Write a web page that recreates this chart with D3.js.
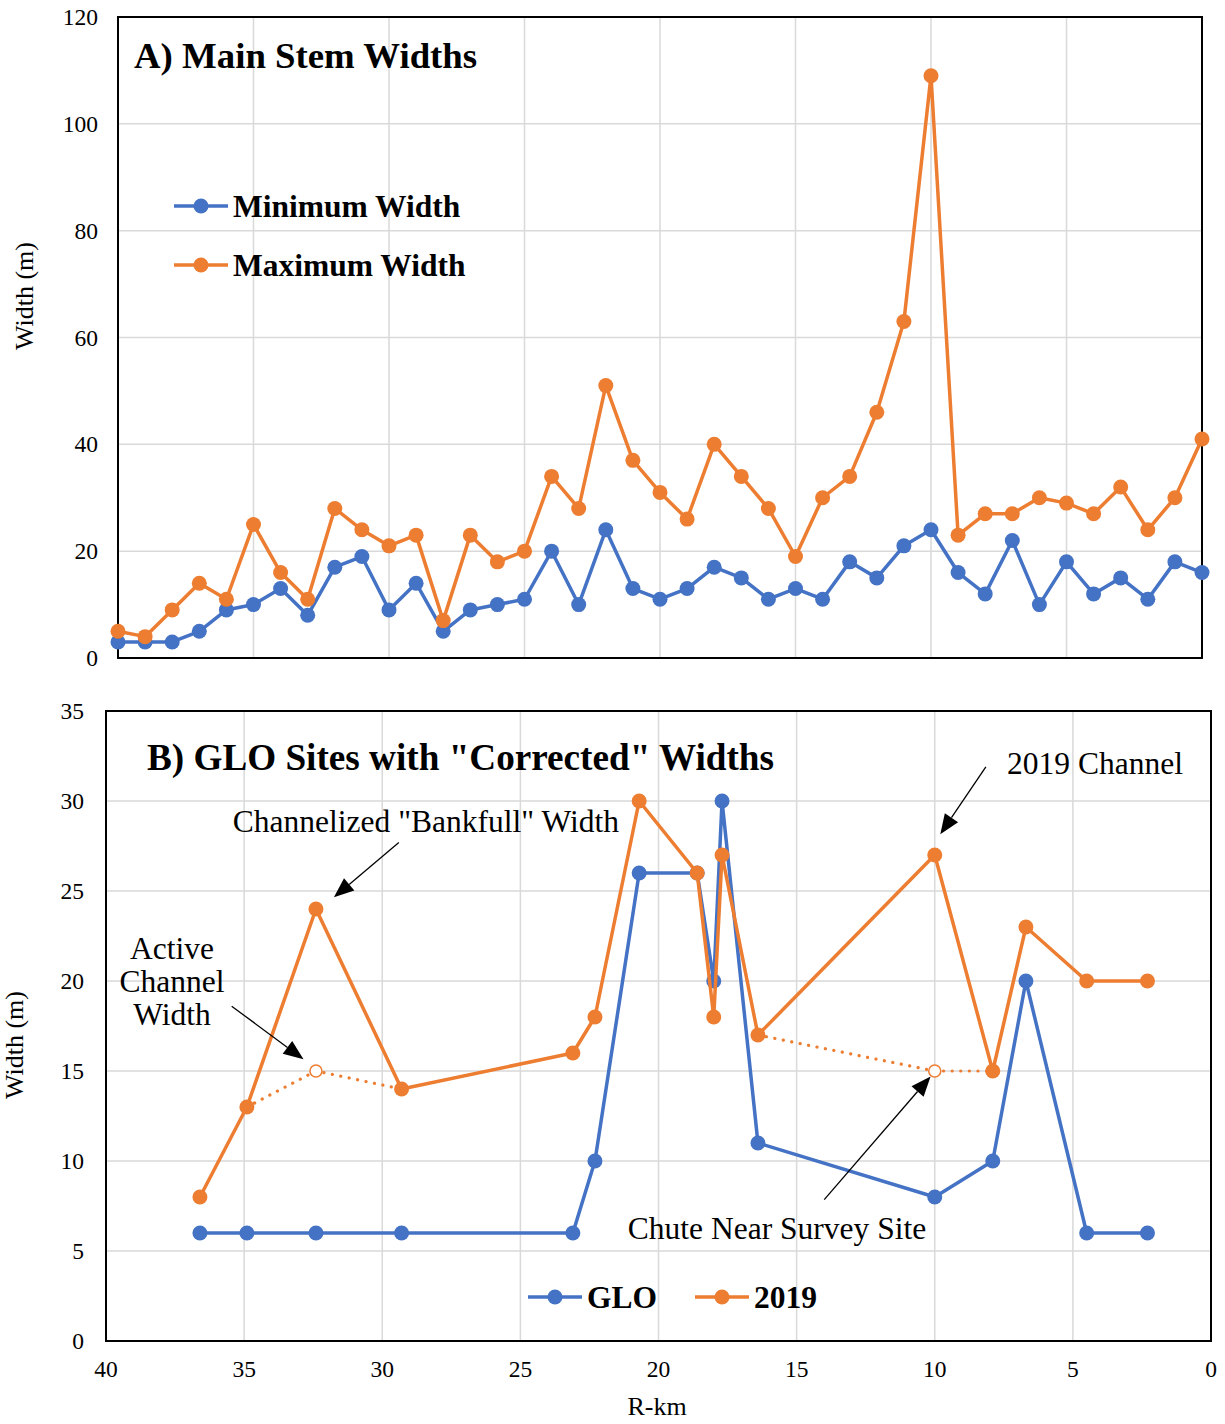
<!DOCTYPE html>
<html>
<head>
<meta charset="utf-8">
<script src="https://cdn.jsdelivr.net/npm/d3@7"></script>
<style>
  html, body { margin: 0; padding: 0; background: #fff; }
  svg { display: block; }
  svg text { font-family: "Liberation Serif", "Times New Roman", serif; }
</style>
</head>
<body>
<script>
// ---- panel A: main stem widths, one value per R-km
const kmA = [40, 39, 38, 37, 36, 35, 34, 33, 32, 31, 30, 29, 28, 27, 26, 25, 24, 23, 22, 21,
             20, 19, 18, 17, 16, 15, 14, 13, 12, 11, 10, 9, 8, 7, 6, 5, 4, 3, 2, 1, 0];
const minWidth = [3, 3, 3, 5, 9, 10, 13, 8, 17, 19, 9, 14, 5, 9, 10, 11, 20, 10, 24, 13,
                  11, 13, 17, 15, 11, 13, 11, 18, 15, 21, 24, 16, 12, 22, 10, 18, 12, 15, 11, 18, 16];
const maxWidth = [5, 4, 9, 14, 11, 25, 16, 11, 28, 24, 21, 23, 7, 23, 18, 20, 34, 28, 51, 37,
                  31, 26, 40, 34, 28, 19, 30, 34, 46, 63, 109, 23, 27, 27, 30, 29, 27, 32, 24, 30, 41];
const seriesA = ["Minimum Width", "Maximum Width"];
const yTicksA = [0, 20, 40, 60, 80, 100, 120];

// ---- panel B: GLO sites with corrected widths
const kmB = [36.6, 34.9, 32.4, 29.3, 23.1, 22.3, 20.7, 18.6, 18.0, 17.7, 16.4, 10.0, 7.9, 6.7, 4.5, 2.3];
const gloWidth = [6, 6, 6, 6, 6, 10, 26, 26, 20, 30, 11, 8, 10, 20, 6, 6];
const width2019 = [8, 13, 24, 14, 16, 18, 30, 26, 18, 27, 17, 27, 15, 23, 20, 20];
// active channel widths (dotted), two stretches; middle point of each is the corrected one
const activeKm = [34.9, 32.4, 29.3, 16.4, 10.0, 7.9];
const activeWidth = [13, 15, 14, 17, 15, 15];
const activeGroup = [1, 1, 1, 2, 2, 2];
const activeHollow = [false, true, false, false, true, false];
const seriesB = ["GLO", "2019"];
const yTicksB = [0, 5, 10, 15, 20, 25, 30, 35];
const xTicksB = [40, 35, 30, 25, 20, 15, 10, 5, 0];

const BLUE = "#4472C4", ORANGE = "#ED7D31", GRID = "#D9D9D9";

const svg = d3.select("body").append("svg")
  .attr("width", 1225).attr("height", 1424)
  .attr("font-family", '"Liberation Serif", "Times New Roman", serif');

function panel(cfg) {
  const x = d3.scaleLinear().domain([40, 0]).range([cfg.left, cfg.right]);
  const y = d3.scaleLinear().domain(cfg.yDomain).range([cfg.bottom, cfg.top]);
  const g = svg.append("g");

  g.append("g").selectAll("line").data(cfg.yTicks.slice(1, -1)).join("line")
    .attr("x1", cfg.left).attr("x2", cfg.right)
    .attr("y1", d => y(d)).attr("y2", d => y(d))
    .attr("stroke", GRID).attr("stroke-width", 1.5);
  g.append("g").selectAll("line").data(d3.range(35, 0, -5)).join("line")
    .attr("x1", d => x(d)).attr("x2", d => x(d))
    .attr("y1", cfg.top).attr("y2", cfg.bottom)
    .attr("stroke", GRID).attr("stroke-width", 1.5);

  g.append("rect")
    .attr("x", cfg.left).attr("y", cfg.top)
    .attr("width", cfg.right - cfg.left).attr("height", cfg.bottom - cfg.top)
    .attr("fill", "none").attr("stroke", "#000").attr("stroke-width", 2);

  g.append("g").selectAll("text").data(cfg.yTicks).join("text")
    .attr("x", cfg.left - cfg.tickGap).attr("y", d => y(d) + 8)
    .attr("text-anchor", "end").attr("font-size", 23.5)
    .text(d => d);

  g.append("text")
    .attr("transform", `translate(${cfg.yTitleX},${cfg.yTitleY}) rotate(-90)`)
    .attr("text-anchor", "middle").attr("font-size", 26)
    .text("Width (m)");

  return { x, y, g };
}

function series(g, x, y, kms, vals, color) {
  const pts = kms.map((k, i) => [k, vals[i]]);
  g.append("path")
    .attr("d", d3.line().x(d => x(d[0])).y(d => y(d[1]))(pts))
    .attr("fill", "none").attr("stroke", color).attr("stroke-width", 3.5)
    .attr("stroke-linejoin", "round");
  g.append("g").selectAll("circle").data(pts).join("circle")
    .attr("cx", d => x(d[0])).attr("cy", d => y(d[1])).attr("r", 7.5)
    .attr("fill", color);
}

function legendItem(g, lx, ly, color, label) {
  g.append("line").attr("x1", lx).attr("x2", lx + 54).attr("y1", ly).attr("y2", ly)
    .attr("stroke", color).attr("stroke-width", 3.5);
  g.append("circle").attr("cx", lx + 27).attr("cy", ly).attr("r", 7.5).attr("fill", color);
  g.append("text").attr("x", lx + 59).attr("y", ly + 11)
    .attr("font-size", 31.5).attr("font-weight", "bold").text(label);
}

function arrow(g, from, to) {
  const [x1, y1] = from, [x2, y2] = to;
  const ang = Math.atan2(y2 - y1, x2 - x1);
  const L = 20, W = 8;
  const bx = x2 - L * Math.cos(ang), by = y2 - L * Math.sin(ang);
  g.append("line").attr("x1", x1).attr("y1", y1).attr("x2", bx).attr("y2", by)
    .attr("stroke", "#000").attr("stroke-width", 1.3);
  const p = [[x2, y2],
    [bx + W * Math.sin(ang), by - W * Math.cos(ang)],
    [bx - W * Math.sin(ang), by + W * Math.cos(ang)]];
  g.append("path").attr("d", "M" + p.join("L") + "Z").attr("fill", "#000");
}

// ---------------- Panel A
{
  const { x, y, g } = panel({ left: 118, right: 1202, top: 17, bottom: 658,
    yDomain: [0, 120], yTicks: yTicksA, tickGap: 20, yTitleX: 33, yTitleY: 296 });
  series(g, x, y, kmA, minWidth, BLUE);
  series(g, x, y, kmA, maxWidth, ORANGE);

  g.append("text").attr("x", 134).attr("y", 68)
    .attr("font-size", 36.8).attr("font-weight", "bold").text("A) Main Stem Widths");
  legendItem(g, 174, 206, BLUE, seriesA[0]);
  legendItem(g, 174, 265, ORANGE, seriesA[1]);
}

// ---------------- Panel B
{
  const { x, y, g } = panel({ left: 106, right: 1211, top: 711, bottom: 1341,
    yDomain: [0, 35], yTicks: yTicksB, tickGap: 22, yTitleX: 23, yTitleY: 1045 });

  g.append("g").selectAll("text").data(xTicksB).join("text")
    .attr("x", d => x(d)).attr("y", 1377)
    .attr("text-anchor", "middle").attr("font-size", 23.5).text(d => d);
  g.append("text").attr("x", 657).attr("y", 1415)
    .attr("text-anchor", "middle").attr("font-size", 26).text("R-km");

  series(g, x, y, kmB, gloWidth, BLUE);
  series(g, x, y, kmB, width2019, ORANGE);

  // dotted active-channel stretches
  const act = activeKm.map((k, i) => ({ k, w: activeWidth[i], grp: activeGroup[i], hollow: activeHollow[i] }));
  for (const [, pts] of d3.group(act, d => d.grp)) {
    g.append("path")
      .attr("d", d3.line().x(d => x(d.k)).y(d => y(d.w))(pts))
      .attr("fill", "none").attr("stroke", ORANGE).attr("stroke-width", 3.2)
      .attr("stroke-linecap", "round").attr("stroke-dasharray", "0.1 8.5");
  }
  g.append("g").selectAll("circle").data(act.filter(d => d.hollow)).join("circle")
    .attr("cx", d => x(d.k)).attr("cy", d => y(d.w)).attr("r", 6)
    .attr("fill", "#fff").attr("stroke", ORANGE).attr("stroke-width", 1.5);

  g.append("text").attr("x", 147).attr("y", 770)
    .attr("font-size", 37.2).attr("font-weight", "bold")
    .text('B) GLO Sites with "Corrected" Widths');

  // annotations (positions in data units)
  const P = (k, w) => [x(k), y(w)];
  g.append("text").attr("x", x(28.42)).attr("y", 832).attr("text-anchor", "middle")
    .attr("font-size", 31.5).text('Channelized "Bankfull" Width');
  arrow(g, P(29.4, 27.7), P(31.75, 24.65));

  const act3 = ["Active", "Channel", "Width"];
  g.append("g").selectAll("text").data(act3).join("text")
    .attr("x", 172).attr("y", (d, i) => 959 + i * 33).attr("text-anchor", "middle")
    .attr("font-size", 31.5).text(d => d);
  arrow(g, P(35.45, 18.6), P(32.85, 15.65));

  g.append("text").attr("x", 1095).attr("y", 774).attr("text-anchor", "middle")
    .attr("font-size", 31.5).text("2019 Channel");
  arrow(g, P(8.15, 31.9), P(9.8, 28.15));

  g.append("text").attr("x", 777).attr("y", 1239).attr("text-anchor", "middle")
    .attr("font-size", 31.5).text("Chute Near Survey Site");
  arrow(g, P(14.0, 7.85), P(10.15, 14.7));

  legendItem(g, 528, 1297, BLUE, seriesB[0]);
  legendItem(g, 695, 1297, ORANGE, seriesB[1]);
}
</script>
</body>
</html>
